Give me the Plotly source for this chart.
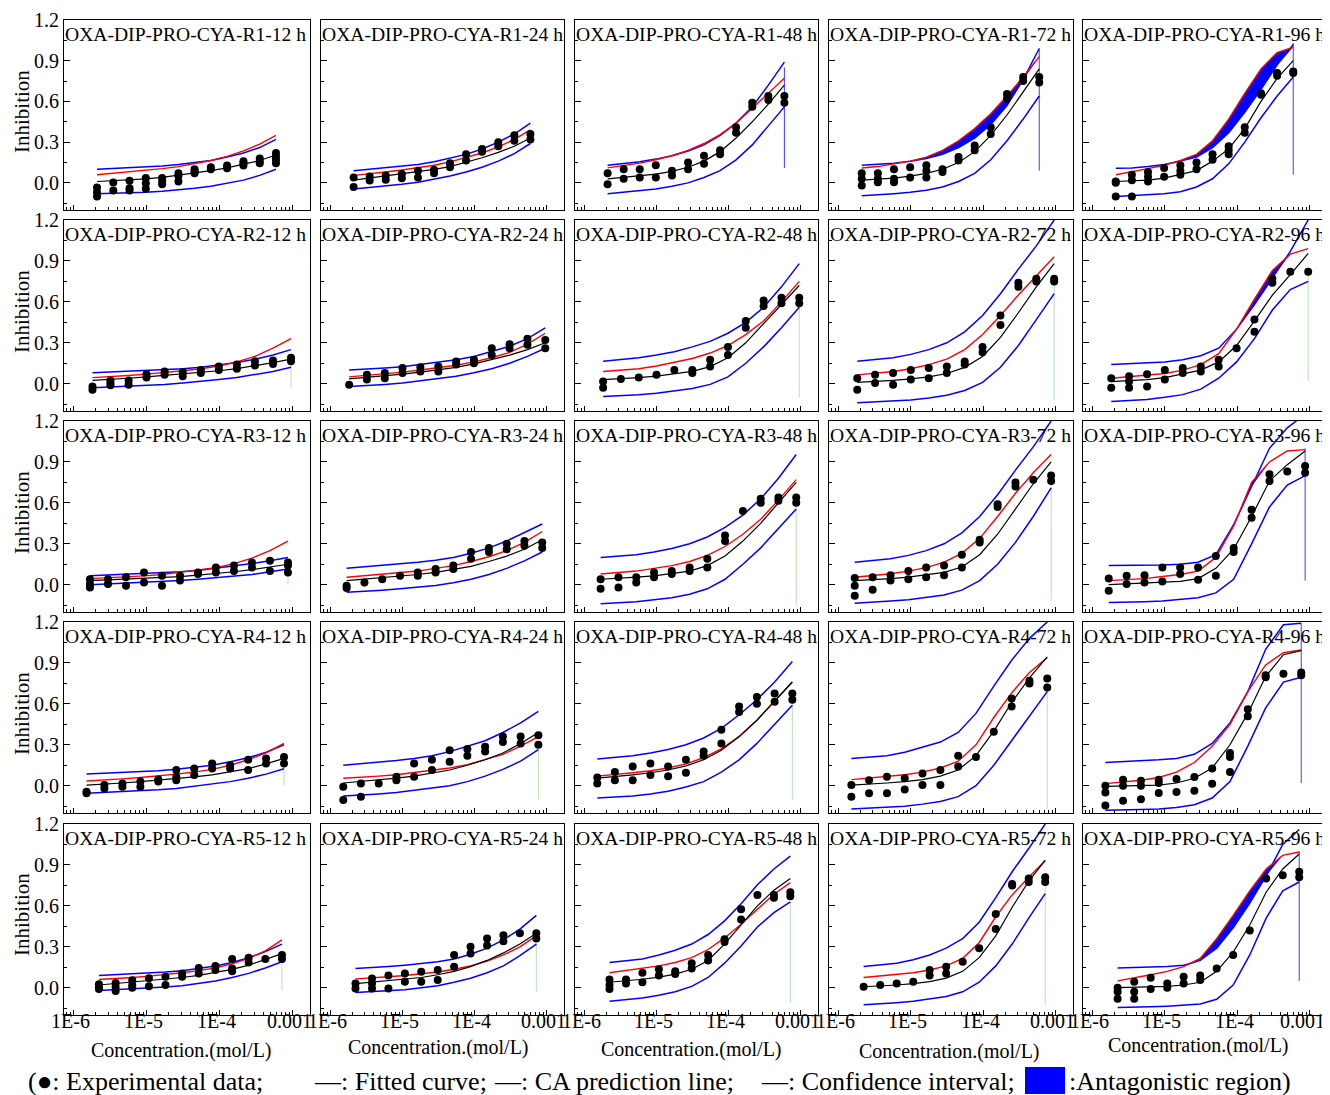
import math
import plotly.graph_objects as go

# ---------------- data ----------------
RAYS = ["R1", "R2", "R3", "R4", "R5"]
TIME_KEYS = ["12H", "24H", "48H", "72H", "96H"]
TIME_LABELS = ["12 h", "24 h", "48 h", "72 h", "96 h"]

CONC_R1 = [2.10e-6, 3.51e-6, 5.86e-6, 9.79e-6, 1.64e-5, 2.74e-5, 4.56e-5, 7.62e-5, 1.27e-4, 2.13e-4, 3.56e-4, 5.94e-4]
CONC_R2 = [1.82e-6, 3.21e-6, 5.69e-6, 1.00e-5, 1.77e-5, 3.14e-5, 5.55e-5, 9.80e-5, 1.73e-4, 3.06e-4, 5.41e-4, 9.55e-4]
CONC_R3 = [1.68e-6, 2.97e-6, 5.24e-6, 9.25e-6, 1.63e-5, 2.88e-5, 5.07e-5, 8.93e-5, 1.58e-4, 2.79e-4, 4.91e-4, 8.67e-4]
CONC_R4 = [1.51e-6, 2.65e-6, 4.68e-6, 8.24e-6, 1.45e-5, 2.56e-5, 4.51e-5, 7.94e-5, 1.40e-4, 2.47e-4, 4.35e-4, 7.66e-4]
CONC_R5 = [2.23e-6, 3.78e-6, 6.38e-6, 1.08e-5, 1.82e-5, 3.08e-5, 5.20e-5, 8.79e-5, 1.49e-4, 2.51e-4, 4.25e-4, 7.18e-4]

X_TICK_VALS = [1e-6, 1e-5, 1e-4, 1e-3]
X_TICK_TEXT = ["1E-6", "1E-5", "1E-4", "0.001"]
Y_TICK_VALS = [0.0, 0.3, 0.6, 0.9, 1.2]
Y_TICK_TEXT = ["0.0", "0.3", "0.6", "0.9", "1.2"]

# ---- R1 ----
R1_12H_FIT = [0.010, 0.015, 0.020, 0.030, 0.040, 0.055, 0.070, 0.090, 0.110, 0.135, 0.165, 0.205]
R1_12H_CA = [0.060, 0.070, 0.080, 0.090, 0.105, 0.120, 0.140, 0.165, 0.195, 0.235, 0.285, 0.350]
R1_12H_CIU = [0.100, 0.105, 0.110, 0.115, 0.125, 0.135, 0.150, 0.165, 0.190, 0.220, 0.260, 0.320]
R1_12H_CIL = [-0.080, -0.078, -0.075, -0.070, -0.062, -0.052, -0.040, -0.025, -0.005, 0.020, 0.055, 0.100]
R1_12H_OBS = [[-0.035, -0.07, -0.10], [0.002, -0.057], [0.015, -0.04, -0.057], [0.035, -0.002, -0.044],
              [0.035, 0.01, -0.01], [0.07, 0.05, 0.01], [0.10, 0.085, 0.07], [0.115, 0.10], [0.127, 0.108],
              [0.16, 0.145, 0.127], [0.18, 0.157, 0.145], [0.22, 0.195, 0.17, 0.145]]
R1_12H_VL = None

R1_24H_FIT = [0.020, 0.035, 0.050, 0.065, 0.080, 0.100, 0.120, 0.150, 0.185, 0.225, 0.270, 0.330]
R1_24H_CA = [0.055, 0.065, 0.080, 0.095, 0.110, 0.130, 0.155, 0.185, 0.220, 0.265, 0.320, 0.390]
R1_24H_CIU = [0.090, 0.100, 0.110, 0.120, 0.135, 0.155, 0.180, 0.210, 0.250, 0.300, 0.360, 0.440]
R1_24H_CIL = [-0.045, -0.035, -0.025, -0.010, 0.005, 0.025, 0.050, 0.080, 0.115, 0.160, 0.215, 0.290]
R1_24H_OBS = [[0.04, -0.03], [0.047, 0.017], [0.054, 0.022], [0.066, 0.034], [0.09, 0.04], [0.096, 0.07],
              [0.145, 0.115], [0.21, 0.165], [0.25, 0.23], [0.30, 0.27], [0.35, 0.31], [0.36, 0.32]]
R1_24H_VL = None

R1_48H_FIT = [0.030, 0.040, 0.050, 0.065, 0.085, 0.115, 0.160, 0.230, 0.330, 0.450, 0.580, 0.720]
R1_48H_CA = [0.110, 0.125, 0.145, 0.170, 0.200, 0.240, 0.290, 0.355, 0.440, 0.550, 0.660, 0.770]
R1_48H_CIU = [0.130, 0.140, 0.155, 0.175, 0.200, 0.235, 0.280, 0.350, 0.440, 0.560, 0.720, 0.890]
R1_48H_CIL = [-0.080, -0.070, -0.060, -0.045, -0.025, 0.000, 0.040, 0.090, 0.170, 0.280, 0.420, 0.560]
R1_48H_OBS = [[0.07, -0.01], [0.10, 0.03], [0.10, 0.04], [0.13, 0.04], [0.09, 0.054], [0.15, 0.10],
              [0.20, 0.14], [0.24, 0.21], [0.41, 0.37], [0.59, 0.56], [0.64, 0.61], [0.64, 0.59]]
R1_48H_VL = [0.85, 0.11]

R1_72H_FIT = [0.020, 0.025, 0.035, 0.050, 0.070, 0.100, 0.150, 0.230, 0.350, 0.500, 0.670, 0.840]
R1_72H_CA = [0.110, 0.120, 0.140, 0.160, 0.190, 0.240, 0.310, 0.400, 0.510, 0.640, 0.780, 0.930]
R1_72H_CIU = [0.130, 0.135, 0.145, 0.160, 0.180, 0.210, 0.260, 0.330, 0.430, 0.570, 0.760, 0.990]
R1_72H_CIL = [-0.095, -0.090, -0.080, -0.070, -0.055, -0.030, 0.010, 0.070, 0.170, 0.310, 0.470, 0.640]
R1_72H_OBS = [[0.07, 0.03, -0.02], [0.07, 0.03, 0.005], [0.10, 0.03, 0.005], [0.115, 0.04], [0.13, 0.09, 0.04],
              [0.10, 0.08], [0.19, 0.165], [0.275, 0.24], [0.41, 0.36], [0.655, 0.62], [0.78, 0.75], [0.78, 0.74]]
R1_72H_VL = [0.99, 0.09]

R1_96H_FIT = [0.010, 0.015, 0.020, 0.035, 0.060, 0.090, 0.160, 0.250, 0.400, 0.600, 0.770, 0.900]
R1_96H_CA = [0.060, 0.080, 0.105, 0.130, 0.165, 0.210, 0.310, 0.470, 0.660, 0.840, 0.960, 1.000]
R1_96H_CIU = [0.108, 0.110, 0.120, 0.135, 0.160, 0.190, 0.260, 0.370, 0.520, 0.690, 0.870, 1.020]
R1_96H_CIL = [-0.100, -0.095, -0.090, -0.080, -0.065, -0.030, 0.030, 0.140, 0.300, 0.480, 0.640, 0.780]
R1_96H_OBS = [[0.01, 0.0, -0.10], [0.06, 0.02, -0.10], [0.08, 0.045, 0.01], [0.11, 0.045], [0.13, 0.09, 0.06],
              [0.15, 0.10], [0.21, 0.17], [0.27, 0.24, 0.21], [0.41, 0.37], [0.66, 0.65], [0.81, 0.79], [0.82, 0.81]]
R1_96H_VL = [1.03, 0.06]

# ---- R2 ----
R2_12H_FIT = [0.025, 0.030, 0.040, 0.050, 0.060, 0.070, 0.080, 0.095, 0.110, 0.130, 0.155, 0.180]
R2_12H_CA = [0.045, 0.050, 0.060, 0.070, 0.080, 0.095, 0.110, 0.130, 0.160, 0.200, 0.260, 0.330]
R2_12H_CIU = [0.080, 0.085, 0.090, 0.095, 0.100, 0.110, 0.120, 0.135, 0.155, 0.180, 0.210, 0.250]
R2_12H_CIL = [-0.030, -0.025, -0.020, -0.015, -0.005, 0.005, 0.015, 0.030, 0.045, 0.065, 0.090, 0.120]
R2_12H_OBS = [[-0.02, -0.045], [0.024, 0.005, -0.012], [0.024, -0.007], [0.07, 0.046], [0.09, 0.066],
              [0.085, 0.054], [0.10, 0.078], [0.127, 0.10], [0.14, 0.11], [0.165, 0.134], [0.17, 0.145], [0.19, 0.165]]
R2_12H_VL = [0.16, -0.03]

R2_24H_FIT = [0.035, 0.045, 0.055, 0.070, 0.085, 0.100, 0.120, 0.145, 0.175, 0.210, 0.250, 0.300]
R2_24H_CA = [0.050, 0.060, 0.070, 0.085, 0.100, 0.115, 0.135, 0.160, 0.190, 0.230, 0.290, 0.370]
R2_24H_CIU = [0.100, 0.105, 0.115, 0.125, 0.140, 0.155, 0.175, 0.200, 0.235, 0.275, 0.330, 0.410]
R2_24H_CIL = [-0.020, -0.015, -0.005, 0.005, 0.020, 0.035, 0.055, 0.080, 0.110, 0.150, 0.200, 0.260]
R2_24H_OBS = [[-0.007], [0.066, 0.03], [0.078, 0.04], [0.115, 0.078], [0.12, 0.09], [0.127, 0.09],
              [0.163, 0.14], [0.175, 0.15], [0.26, 0.21], [0.29, 0.26], [0.33, 0.285], [0.32, 0.26]]
R2_24H_VL = None

R2_48H_FIT = [0.030, 0.035, 0.045, 0.055, 0.070, 0.090, 0.125, 0.190, 0.300, 0.440, 0.580, 0.720]
R2_48H_CA = [0.090, 0.100, 0.110, 0.130, 0.155, 0.185, 0.225, 0.280, 0.360, 0.460, 0.600, 0.750]
R2_48H_CIU = [0.165, 0.175, 0.190, 0.210, 0.235, 0.270, 0.310, 0.370, 0.450, 0.560, 0.710, 0.880]
R2_48H_CIL = [-0.093, -0.088, -0.080, -0.070, -0.055, -0.035, -0.005, 0.050, 0.150, 0.270, 0.410, 0.560]
R2_48H_OBS = [[0.017, -0.03], [0.034], [0.046], [0.066], [0.10], [0.10, 0.078], [0.175, 0.127],
              [0.27, 0.21], [0.46, 0.41], [0.61, 0.57], [0.63, 0.59], [0.63, 0.59]]
R2_48H_VL = [0.62, -0.10]

R2_72H_FIT = [0.010, 0.015, 0.025, 0.035, 0.050, 0.075, 0.120, 0.200, 0.340, 0.520, 0.710, 0.880]
R2_72H_CA = [0.065, 0.075, 0.090, 0.110, 0.140, 0.180, 0.250, 0.360, 0.500, 0.650, 0.790, 0.930]
R2_72H_CIU = [0.165, 0.175, 0.190, 0.215, 0.250, 0.300, 0.380, 0.500, 0.660, 0.840, 1.010, 1.200]
R2_72H_CIL = [-0.140, -0.135, -0.130, -0.120, -0.105, -0.085, -0.050, 0.010, 0.120, 0.280, 0.470, 0.660]
R2_72H_OBS = [[0.04, -0.044], [0.066, 0.005], [0.078, -0.007], [0.10, 0.03], [0.115, 0.04], [0.127, 0.078],
              [0.163, 0.14], [0.27, 0.23], [0.50, 0.43], [0.74, 0.71], [0.77, 0.75], [0.77, 0.75]]
R2_72H_VL = [0.76, -0.12]

R2_96H_FIT = [0.015, 0.020, 0.030, 0.045, 0.070, 0.100, 0.160, 0.280, 0.460, 0.650, 0.800, 0.955]
R2_96H_CA = [0.040, 0.050, 0.060, 0.075, 0.100, 0.140, 0.220, 0.400, 0.620, 0.830, 0.950, 0.990]
R2_96H_CIU = [0.140, 0.145, 0.150, 0.160, 0.175, 0.205, 0.260, 0.400, 0.580, 0.780, 0.970, 1.200]
R2_96H_CIL = [-0.130, -0.125, -0.115, -0.100, -0.080, -0.040, 0.040, 0.160, 0.330, 0.540, 0.690, 0.750]
R2_96H_OBS = [[0.04, -0.03], [0.054, 0.017, -0.03], [0.07, -0.02], [0.10, 0.03], [0.115, 0.078], [0.127, 0.09],
              [0.175, 0.127], [0.26], [0.47, 0.38], [0.77, 0.74], [0.82], [0.82]]
R2_96H_VL = [0.82, 0.02]

# ---- R3 ----
R3_12H_FIT = [0.030, 0.035, 0.040, 0.045, 0.050, 0.060, 0.070, 0.080, 0.095, 0.110, 0.130, 0.150]
R3_12H_CA = [0.045, 0.050, 0.060, 0.065, 0.075, 0.090, 0.105, 0.125, 0.155, 0.195, 0.250, 0.320]
R3_12H_CIU = [0.065, 0.070, 0.075, 0.080, 0.085, 0.095, 0.105, 0.120, 0.135, 0.155, 0.175, 0.200]
R3_12H_CIL = [0.000, 0.005, 0.010, 0.015, 0.020, 0.030, 0.040, 0.050, 0.060, 0.075, 0.095, 0.115]
R3_12H_OBS = [[0.04, 0.005, -0.02], [0.04, 0.005], [0.054, -0.007], [0.09, 0.017], [0.066, -0.007], [0.066, 0.03],
              [0.09, 0.078], [0.127, 0.09], [0.14, 0.10], [0.163, 0.127], [0.175, 0.10], [0.163, 0.14, 0.09]]
R3_12H_VL = [0.15, 0.0]

R3_24H_FIT = [0.030, 0.040, 0.050, 0.060, 0.075, 0.090, 0.110, 0.135, 0.170, 0.210, 0.260, 0.330]
R3_24H_CA = [0.055, 0.065, 0.075, 0.090, 0.100, 0.120, 0.140, 0.170, 0.205, 0.250, 0.310, 0.390]
R3_24H_CIU = [0.120, 0.130, 0.140, 0.150, 0.165, 0.180, 0.200, 0.230, 0.270, 0.320, 0.380, 0.445]
R3_24H_CIL = [-0.055, -0.050, -0.040, -0.030, -0.020, -0.005, 0.015, 0.040, 0.075, 0.120, 0.175, 0.240]
R3_24H_OBS = [[-0.007, -0.024], [0.017], [0.04], [0.066], [0.09, 0.066], [0.115, 0.09], [0.14, 0.115],
              [0.24, 0.19], [0.27, 0.24], [0.30, 0.26], [0.32, 0.285], [0.31, 0.27]]
R3_24H_VL = None

R3_48H_FIT = [0.040, 0.045, 0.055, 0.065, 0.080, 0.100, 0.140, 0.210, 0.320, 0.450, 0.600, 0.750]
R3_48H_CA = [0.078, 0.090, 0.100, 0.120, 0.140, 0.170, 0.215, 0.280, 0.370, 0.480, 0.620, 0.770]
R3_48H_CIU = [0.200, 0.210, 0.220, 0.240, 0.265, 0.300, 0.350, 0.420, 0.510, 0.630, 0.780, 0.955]
R3_48H_CIL = [-0.140, -0.135, -0.125, -0.110, -0.095, -0.070, -0.030, 0.040, 0.150, 0.270, 0.410, 0.555]
R3_48H_OBS = [[0.04, -0.03], [0.054, -0.02], [0.054, 0.017], [0.09, 0.054], [0.10, 0.078], [0.127, 0.10],
              [0.19, 0.127], [0.36, 0.32], [0.54], [0.63, 0.60], [0.64, 0.615], [0.64, 0.60]]
R3_48H_VL = [0.60, -0.15]

R3_72H_FIT = [0.030, 0.035, 0.045, 0.055, 0.070, 0.090, 0.130, 0.220, 0.370, 0.560, 0.740, 0.900]
R3_72H_CA = [0.055, 0.065, 0.080, 0.100, 0.125, 0.165, 0.230, 0.340, 0.500, 0.670, 0.820, 0.955]
R3_72H_CIU = [0.165, 0.175, 0.190, 0.215, 0.250, 0.300, 0.380, 0.500, 0.660, 0.840, 1.010, 1.200]
R3_72H_CIL = [-0.135, -0.130, -0.120, -0.110, -0.095, -0.075, -0.040, 0.030, 0.150, 0.310, 0.500, 0.710]
R3_72H_OBS = [[0.05, -0.007, -0.08], [0.054, -0.037], [0.07, 0.03], [0.10, 0.04], [0.127, 0.054], [0.14, 0.07],
              [0.22, 0.127], [0.33, 0.31], [0.59, 0.57], [0.75, 0.72], [0.77], [0.80, 0.76]]
R3_72H_VL = [0.78, -0.12]

R3_96H_FIT = [0.000, 0.005, 0.010, 0.015, 0.025, 0.045, 0.120, 0.260, 0.500, 0.760, 0.880, 0.980]
R3_96H_CA = [0.030, 0.035, 0.045, 0.060, 0.075, 0.100, 0.200, 0.430, 0.750, 0.900, 0.980, 0.990]
R3_96H_CIU = [0.140, 0.140, 0.145, 0.145, 0.150, 0.165, 0.220, 0.440, 0.720, 1.000, 1.150, 1.250]
R3_96H_CIL = [-0.130, -0.130, -0.125, -0.120, -0.110, -0.095, -0.060, 0.040, 0.300, 0.570, 0.730, 0.800]
R3_96H_OBS = [[0.046, -0.044], [0.066, 0.005], [0.07, 0.017], [0.127, 0.024], [0.127, 0.078], [0.127, 0.037],
              [0.21, 0.066], [0.27, 0.24], [0.55, 0.49], [0.81, 0.76], [0.83], [0.87, 0.82]]
R3_96H_VL = [1.0, 0.03]

# ---- R4 ----
R4_12H_FIT = [0.005, 0.010, 0.020, 0.030, 0.040, 0.050, 0.065, 0.080, 0.100, 0.125, 0.160, 0.200]
R4_12H_CA = [0.035, 0.040, 0.050, 0.060, 0.070, 0.085, 0.100, 0.120, 0.150, 0.190, 0.240, 0.310]
R4_12H_CIU = [0.085, 0.090, 0.095, 0.100, 0.110, 0.120, 0.135, 0.150, 0.175, 0.205, 0.245, 0.300]
R4_12H_CIL = [-0.055, -0.050, -0.045, -0.040, -0.030, -0.020, -0.005, 0.010, 0.030, 0.055, 0.085, 0.125]
R4_12H_OBS = [[-0.044, -0.056], [0.005, -0.02], [0.017, -0.007], [0.03, -0.007], [0.046, 0.03], [0.115, 0.066, 0.04],
              [0.127, 0.078], [0.163, 0.127], [0.15, 0.127], [0.19, 0.115], [0.20, 0.163], [0.21, 0.163]]
R4_12H_VL = [0.20, 0.0]

R4_24H_FIT = [0.020, 0.030, 0.040, 0.055, 0.070, 0.090, 0.115, 0.150, 0.190, 0.240, 0.310, 0.390]
R4_24H_CA = [0.055, 0.060, 0.070, 0.080, 0.095, 0.110, 0.130, 0.155, 0.190, 0.230, 0.290, 0.360]
R4_24H_CIU = [0.150, 0.160, 0.170, 0.185, 0.200, 0.220, 0.250, 0.290, 0.330, 0.390, 0.460, 0.545]
R4_24H_CIL = [-0.075, -0.070, -0.060, -0.050, -0.035, -0.020, 0.000, 0.030, 0.070, 0.120, 0.180, 0.265]
R4_24H_OBS = [[-0.007, -0.105], [0.017, -0.08], [0.017], [0.066, 0.04], [0.163, 0.066], [0.19, 0.115],
              [0.26, 0.175], [0.27, 0.22], [0.285, 0.25], [0.36, 0.32], [0.36, 0.31], [0.37, 0.30]]
R4_24H_VL = [0.30, -0.10]

R4_48H_FIT = [0.055, 0.065, 0.080, 0.095, 0.115, 0.145, 0.190, 0.260, 0.360, 0.480, 0.620, 0.760]
R4_48H_CA = [0.070, 0.080, 0.095, 0.110, 0.130, 0.160, 0.205, 0.270, 0.360, 0.480, 0.620, 0.760]
R4_48H_CIU = [0.195, 0.205, 0.220, 0.240, 0.265, 0.300, 0.350, 0.420, 0.520, 0.630, 0.760, 0.910]
R4_48H_CIL = [-0.090, -0.085, -0.075, -0.060, -0.040, -0.010, 0.030, 0.100, 0.190, 0.310, 0.450, 0.590]
R4_48H_OBS = [[0.06, 0.017], [0.10, 0.04], [0.14, 0.04], [0.163, 0.078], [0.14, 0.07], [0.19, 0.095],
              [0.25, 0.22], [0.41, 0.31], [0.58, 0.54], [0.65, 0.60], [0.675, 0.615], [0.675, 0.63]]
R4_48H_VL = [0.62, -0.10]

R4_72H_FIT = [0.005, 0.010, 0.020, 0.030, 0.045, 0.070, 0.115, 0.220, 0.400, 0.610, 0.790, 0.945]
R4_72H_CA = [0.045, 0.055, 0.065, 0.080, 0.100, 0.130, 0.180, 0.300, 0.500, 0.680, 0.830, 0.940]
R4_72H_CIU = [0.200, 0.210, 0.220, 0.245, 0.280, 0.320, 0.390, 0.530, 0.730, 0.920, 1.080, 1.200]
R4_72H_CIL = [-0.170, -0.165, -0.160, -0.150, -0.135, -0.115, -0.080, 0.000, 0.150, 0.330, 0.510, 0.690]
R4_72H_OBS = [[0.005, -0.08], [0.04, -0.056], [0.066, -0.056], [0.054, -0.027], [0.09, 0.005], [0.115, 0.005],
              [0.22, 0.14], [0.21], [0.395], [0.64, 0.58], [0.77, 0.75], [0.785, 0.72]]
R4_72H_VL = [0.75, -0.17]

R4_96H_FIT = [-0.005, -0.003, 0.000, 0.005, 0.020, 0.055, 0.130, 0.300, 0.530, 0.800, 0.960, 0.990]
R4_96H_CA = [0.015, 0.025, 0.040, 0.060, 0.100, 0.170, 0.290, 0.450, 0.690, 0.885, 0.975, 0.995]
R4_96H_CIU = [0.170, 0.175, 0.180, 0.190, 0.200, 0.230, 0.310, 0.460, 0.690, 1.000, 1.180, 1.190]
R4_96H_CIL = [-0.180, -0.180, -0.175, -0.170, -0.160, -0.140, -0.090, 0.030, 0.290, 0.570, 0.760, 0.795]
R4_96H_OBS = [[0.0, -0.05, -0.145], [0.044, 0.0, -0.11], [0.037, 0.0, -0.10], [0.044, 0.02, -0.054], [0.05, -0.046],
              [0.063, -0.037], [0.127, 0.015], [0.24, 0.21, 0.10], [0.56, 0.51], [0.81, 0.795], [0.82], [0.83, 0.81]]
R4_96H_VL = [1.19, 0.02]

# ---- R5 ----
R5_12H_FIT = [0.020, 0.030, 0.040, 0.050, 0.060, 0.075, 0.090, 0.110, 0.135, 0.165, 0.205, 0.250]
R5_12H_CA = [0.060, 0.065, 0.075, 0.085, 0.095, 0.110, 0.125, 0.145, 0.175, 0.215, 0.270, 0.350]
R5_12H_CIU = [0.090, 0.095, 0.100, 0.110, 0.115, 0.125, 0.140, 0.160, 0.185, 0.220, 0.265, 0.320]
R5_12H_CIL = [-0.020, -0.015, -0.010, -0.005, 0.005, 0.015, 0.030, 0.050, 0.075, 0.105, 0.145, 0.190]
R5_12H_OBS = [[0.025, 0.0, -0.01], [0.035, 0.005, -0.025], [0.055, 0.02, 0.0], [0.07, 0.01], [0.08, 0.02],
              [0.105, 0.08], [0.145, 0.105], [0.16, 0.13], [0.21, 0.14, 0.12], [0.22, 0.185], [0.21], [0.24, 0.21]]
R5_12H_VL = [0.22, -0.02]

R5_24H_FIT = [0.030, 0.040, 0.050, 0.060, 0.075, 0.095, 0.120, 0.155, 0.200, 0.255, 0.320, 0.400]
R5_24H_CA = [0.065, 0.070, 0.080, 0.090, 0.100, 0.115, 0.135, 0.160, 0.195, 0.240, 0.300, 0.380]
R5_24H_CIU = [0.140, 0.145, 0.155, 0.165, 0.175, 0.190, 0.210, 0.245, 0.290, 0.350, 0.430, 0.530]
R5_24H_CIL = [-0.035, -0.030, -0.025, -0.015, 0.000, 0.015, 0.040, 0.070, 0.110, 0.160, 0.235, 0.320]
R5_24H_OBS = [[0.03, -0.005], [0.068, 0.03, -0.005], [0.09, -0.005], [0.105, 0.044], [0.117, 0.044], [0.13, 0.056],
              [0.24, 0.154], [0.30, 0.25], [0.36, 0.31], [0.385, 0.34], [0.40], [0.40, 0.36]]
R5_24H_VL = [0.38, -0.03]

R5_48H_FIT = [0.040, 0.050, 0.062, 0.078, 0.100, 0.135, 0.200, 0.320, 0.465, 0.600, 0.715, 0.800]
R5_48H_CA = [0.110, 0.125, 0.140, 0.160, 0.185, 0.220, 0.280, 0.365, 0.465, 0.575, 0.685, 0.770]
R5_48H_CIU = [0.185, 0.195, 0.210, 0.240, 0.275, 0.320, 0.390, 0.490, 0.615, 0.755, 0.870, 0.965]
R5_48H_CIL = [-0.100, -0.090, -0.075, -0.055, -0.030, 0.010, 0.075, 0.180, 0.305, 0.445, 0.550, 0.630]
R5_48H_OBS = [[0.06, 0.02, -0.01], [0.06, 0.03], [0.11, 0.04], [0.135, 0.09], [0.12, 0.10], [0.18, 0.14],
              [0.24, 0.20], [0.355, 0.335], [0.575, 0.50], [0.68], [0.68, 0.66], [0.70, 0.67]]
R5_48H_VL = [0.63, -0.11]

R5_72H_FIT = [0.007, 0.012, 0.020, 0.030, 0.045, 0.070, 0.120, 0.220, 0.380, 0.590, 0.780, 0.935]
R5_72H_CA = [0.075, 0.085, 0.095, 0.110, 0.130, 0.160, 0.215, 0.330, 0.520, 0.680, 0.810, 0.930]
R5_72H_CIU = [0.155, 0.165, 0.180, 0.205, 0.240, 0.290, 0.360, 0.480, 0.660, 0.850, 1.020, 1.200]
R5_72H_CIL = [-0.125, -0.120, -0.110, -0.100, -0.085, -0.065, -0.030, 0.040, 0.160, 0.320, 0.510, 0.690]
R5_72H_OBS = [[0.007], [0.02], [0.03], [0.044], [0.13, 0.09], [0.154, 0.105], [0.19], [0.29],
              [0.54, 0.43], [0.76, 0.75], [0.80, 0.775], [0.81, 0.775]]
R5_72H_VL = [0.78, -0.13]

R5_96H_FIT = [0.000, 0.002, 0.005, 0.010, 0.020, 0.040, 0.120, 0.260, 0.460, 0.700, 0.870, 0.980]
R5_96H_CA = [0.050, 0.070, 0.095, 0.120, 0.155, 0.215, 0.360, 0.530, 0.710, 0.870, 0.970, 0.995]
R5_96H_CIU = [0.145, 0.147, 0.150, 0.155, 0.165, 0.200, 0.290, 0.440, 0.620, 0.820, 1.050, 1.160]
R5_96H_CIL = [-0.145, -0.145, -0.140, -0.135, -0.130, -0.120, -0.085, 0.020, 0.240, 0.510, 0.710, 0.775]
R5_96H_OBS = [[0.0, -0.03, -0.08], [0.044, -0.03, -0.08], [0.073, -0.01], [0.03, 0.0], [0.08, 0.03], [0.09, 0.056],
              [0.14], [0.24], [0.42], [0.80], [0.825], [0.85, 0.81]]
R5_96H_VL = [1.0, 0.05]

# panels whose antagonistic region (CA line above upper confidence limit) is shaded
ANTAGONISTIC = ["R1_72H", "R1_96H", "R2_96H", "R3_96H", "R5_96H"]
STRONG_VLINE = ["R1_48H", "R1_72H", "R1_96H", "R3_96H", "R4_96H", "R5_96H"]

CONC = {"R1": CONC_R1, "R2": CONC_R2, "R3": CONC_R3, "R4": CONC_R4, "R5": CONC_R5}
_g = globals()
PANELS = {
    f"{ray}_{tk}": {s: _g[f"{ray}_{tk}_{s}"] for s in ("FIT", "CA", "CIU", "CIL", "OBS", "VL")}
    for ray in RAYS for tk in TIME_KEYS
}

# ---------------- layout geometry (page pixels) ----------------
W, H = 1330, 1095
OFF = 8  # page body margin offset of the plot div
COL_L = [64, 321, 575, 829, 1083]
COL_R = [310, 564, 818, 1073, 1327]
ROW_T = [20, 220, 421, 622, 824]
ROW_B = [210, 411, 612, 813, 1015]
XT_CENTER = [181, 438, 692, 949, 1198]
XT_Y = [1050, 1047, 1049, 1051, 1045]
YT_Y = [112, 312, 513, 714, 915]
XLAB_Y = 1021
X_RANGE = [-6.13, -2.76]

SERIF = "Liberation Serif, Times New Roman, serif"
BLUE = "#0000ff"
RED = "#ff0000"

MINOR_X = [k * 10.0 ** e for e in (-7, -6, -5, -4, -3) for k in range(2, 10)]
MINOR_Y = [-0.15, 0.15, 0.45, 0.75, 1.05]


def px(xp):
    return (xp - OFF) / W


def py(yp):
    return 1 - (yp - OFF) / H


fig = go.Figure()
layout_axes = {}
annotations = []

for r, ray in enumerate(RAYS):
    for c, tk in enumerate(TIME_KEYS):
        n = r * 5 + c + 1
        sfx = "" if n == 1 else str(n)
        xa, ya = "x" + sfx, "y" + sfx
        key = f"{ray}_{tk}"
        d = PANELS[key]
        conc = CONC[ray]

        if key in ANTAGONISTIC:
            low = [min(a, b) for a, b in zip(d["CA"], d["CIU"])]
            fig.add_trace(go.Scatter(x=conc, y=low, mode="lines", line=dict(width=0, color=BLUE),
                                     hoverinfo="skip", showlegend=False, xaxis=xa, yaxis=ya))
            fig.add_trace(go.Scatter(x=conc, y=d["CA"], mode="lines", line=dict(width=0, color=BLUE),
                                     fill="tonexty", fillcolor=BLUE,
                                     hoverinfo="skip", showlegend=False, xaxis=xa, yaxis=ya))

        if d["VL"] is not None:
            strong = key in STRONG_VLINE
            fig.add_trace(go.Scatter(x=[conc[-1], conc[-1]], y=d["VL"], mode="lines",
                                     line=dict(width=1, color="#3c3cff" if strong else "#b8e0b8"),
                                     hoverinfo="skip", showlegend=False, xaxis=xa, yaxis=ya))

        for s, col, w in (("CIU", BLUE, 1.5), ("CIL", BLUE, 1.5), ("CA", RED, 1.4), ("FIT", "black", 1.2)):
            fig.add_trace(go.Scatter(x=conc, y=d[s], mode="lines", line=dict(width=w, color=col),
                                     showlegend=False, xaxis=xa, yaxis=ya))

        ox, oy = [], []
        for xi, reps in zip(conc, d["OBS"]):
            for v in reps:
                ox.append(xi)
                oy.append(v)
        fig.add_trace(go.Scatter(x=ox, y=oy, mode="markers", marker=dict(size=8, color="black"),
                                 showlegend=False, xaxis=xa, yaxis=ya))

        layout_axes["xaxis" + sfx] = dict(
            domain=[px(COL_L[c]), px(COL_R[c])], anchor=ya, type="log", range=X_RANGE,
            automargin=False,
            showline=True, mirror=True, linecolor="black", linewidth=1,
            ticks="inside", ticklen=5, tickwidth=1, tickcolor="black",
            tickvals=X_TICK_VALS, showticklabels=False,
            showgrid=False, zeroline=False,
            minor=dict(ticks="inside", ticklen=3, tickcolor="black", tickvals=MINOR_X, showgrid=False),
        )
        layout_axes["yaxis" + sfx] = dict(
            domain=[py(ROW_B[r]), py(ROW_T[r])], anchor=xa, range=[-0.2, 1.2],
            automargin=False,
            showline=True, mirror=True, linecolor="black", linewidth=1,
            ticks="inside", ticklen=6, tickwidth=1, tickcolor="black",
            tickvals=Y_TICK_VALS, ticktext=Y_TICK_TEXT, showticklabels=(c == 0),
            tickfont=dict(family=SERIF, size=20, color="black"),
            showgrid=False, zeroline=False,
            minor=dict(ticks="inside", ticklen=3, tickcolor="black", tickvals=MINOR_Y, showgrid=False),
        )

        annotations.append(dict(
            text=f"OXA-DIP-PRO-CYA-{ray}-{TIME_LABELS[c]}", xref=f"{xa} domain", yref=f"{ya} domain",
            x=0, y=1, xanchor="left", yanchor="top", yshift=-2, xshift=-1, showarrow=False,
            font=dict(family=SERIF, size=19.6, color="black")))

        if r == 4:
            for i, (tv, tt) in enumerate(zip(X_TICK_VALS, X_TICK_TEXT)):
                shift = -7 if (c == 4 and i == 3) else -3
                annotations.append(dict(
                    text=tt, xref=xa, yref="paper", x=math.log10(tv), y=py(XLAB_Y),
                    xanchor="center", yanchor="middle", xshift=shift, showarrow=False,
                    font=dict(family=SERIF, size=20, color="black")))

for r in range(5):
    annotations.append(dict(text="Inhibition", xref="paper", yref="paper", x=px(22), y=py(YT_Y[r]),
                            xanchor="center", yanchor="middle", textangle=-90, showarrow=False,
                            font=dict(family=SERIF, size=21, color="black")))
for c in range(5):
    annotations.append(dict(text="Concentration.(mol/L)", xref="paper", yref="paper",
                            x=px(XT_CENTER[c]), y=py(XT_Y[c]), xanchor="center", yanchor="middle",
                            showarrow=False, font=dict(family=SERIF, size=20, color="black")))

# bottom key: (text, anchor pixel, anchor side)
KEY_SEGMENTS = [("(●: Experimental data;", 26, "left"), ("—: Fitted curve;", 312, "left"),
                ("—: CA prediction line;", 492, "left"), ("—: Confidence interval;", 1017, "right"),
                (":Antagonistic region)", 1067, "left")]
for txt, xp, anc in KEY_SEGMENTS:
    annotations.append(dict(text=txt, xref="paper", yref="paper", x=px(xp), y=py(1081),
                            xanchor=anc, yanchor="middle", showarrow=False,
                            font=dict(family=SERIF, size=26, color="black")))

shapes = [dict(type="rect", xref="paper", yref="paper", x0=px(1025), x1=px(1065),
               y0=py(1094), y1=py(1067), fillcolor=BLUE, line=dict(width=0))]

fig.update_layout(
    width=W, height=H, margin=dict(l=0, r=0, t=0, b=0, autoexpand=False),
    paper_bgcolor="white", plot_bgcolor="white", showlegend=False,
    annotations=annotations, shapes=shapes, **layout_axes,
)

fig.write_html("out.html")
